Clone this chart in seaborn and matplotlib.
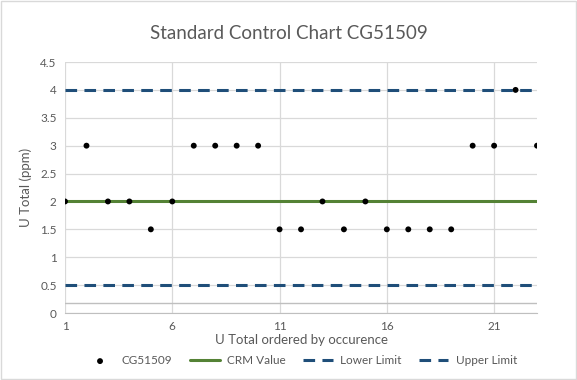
import matplotlib
matplotlib.use("Agg")
import matplotlib.pyplot as plt
import seaborn as sns
import pandas as pd

# data
occurrence = list(range(1, 24))
u_total = [2, 3, 2, 2, 1.5, 2, 3, 3, 3, 3, 1.5, 1.5, 2, 1.5, 2, 1.5, 1.5, 1.5, 1.5, 3, 3, 4, 3]
crm_value = 2
lower_limit = 0.5
upper_limit = 4
x_ticks = [1, 6, 11, 16, 21]
y_ticks = [0, 0.5, 1, 1.5, 2, 2.5, 3, 3.5, 4, 4.5]

sns.set_style("white")
plt.rcParams['font.family'] = ['Lato', 'DejaVu Sans']

df = pd.DataFrame({
    "x": occurrence,
    "u": u_total,
    "crm": [crm_value] * len(occurrence),
    "low": [lower_limit] * len(occurrence),
    "up": [upper_limit] * len(occurrence),
})

txt = "#595959"
blue = "#1F4E79"
green = "#548235"

fig = plt.figure(figsize=(5.77, 3.80), dpi=100)
ax = fig.add_axes([0.1127, 0.1763, 0.818, 0.6605])

sns.lineplot(data=df, x="x", y="crm", ax=ax, color=green, lw=2.2, label="CRM Value", zorder=2)
sns.lineplot(data=df, x="x", y="low", ax=ax, color=blue, lw=2.2, label="Lower Limit", zorder=2)
sns.lineplot(data=df, x="x", y="up", ax=ax, color=blue, lw=2.2, label="Upper Limit", zorder=2)
for ln in ax.lines[1:3]:
    ln.set_dashes((3.8, 2.4))
sns.scatterplot(data=df, x="x", y="u", ax=ax, color="black", s=18, edgecolor="none",
                label="CG51509", zorder=3)

ax.set_xlim(1, 23)
ax.set_ylim(0, 4.5)
ax.set_xticks(x_ticks)
ax.set_yticks(y_ticks)
ax.set_yticklabels([f"{v:g}" for v in y_ticks])
ax.grid(True, color="#D9D9D9", lw=0.9)
ax.axhline(0.185, color="#BFBFBF", lw=1, zorder=1)
for s in ["top", "right", "left"]:
    ax.spines[s].set_visible(False)
ax.spines["bottom"].set_color("#BFBFBF")
ax.tick_params(axis="both", length=0, labelsize=8.5, colors=txt, pad=6)

ax.set_xlabel("U Total ordered by occurence", fontsize=9.5, color=txt, labelpad=1)
ax.set_ylabel("U Total (ppm)", fontsize=9.5, color=txt, labelpad=6)
fig.suptitle("Standard Control Chart CG51509", x=0.5, y=0.935, fontsize=13.5, color=txt)

h, l = ax.get_legend_handles_labels()
order = [3, 0, 1, 2]
ax.legend([h[i] for i in order], [l[i] for i in order], loc="center", bbox_to_anchor=(0.5, -0.19),
          ncol=4, frameon=False, fontsize=8.5, labelcolor=txt, handlelength=2.5,
          columnspacing=1.5, handletextpad=0.6)

fig.patches.append(plt.Rectangle((0.002, 0.003), 0.996, 0.994, transform=fig.transFigure,
                                 fill=False, edgecolor="#D9D9D9", lw=1))

fig.savefig("out.png", dpi=100)
